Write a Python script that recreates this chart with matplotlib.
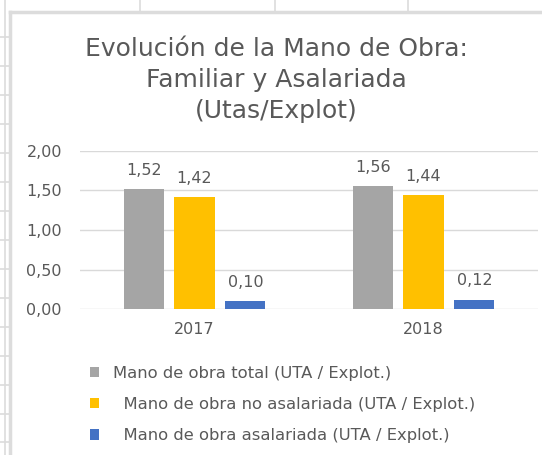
import matplotlib
matplotlib.use('Agg')
from matplotlib import pyplot as plt
from matplotlib.lines import Line2D

W, H = 542, 455  # Figure size in pixels

years = ['2017', '2018']
total = [1.52, 1.56]
no_asalariada = [1.42, 1.44]
asalariada = [0.10, 0.12]
series_labels = ['Mano de obra total (UTA / Explot.)',
                 '  Mano de obra no asalariada (UTA / Explot.)',
                 '  Mano de obra asalariada (UTA / Explot.)']
y_ticks = [0.0, 0.5, 1.0, 1.5, 2.0]

COLORS = ['#a5a5a5', '#ffc000', '#4472c4']  # gray, gold, blue (Excel palette)
TEXT = '#595959'
GRID = '#d9d9d9'
SHEET = '#dcdcdc'
FS = 11.5  # Base font size for labels


def fx(px):
    return px / W


def fy(py):
    return 1 - py / H


def to_label(v):
    return '{:.2f}'.format(v).replace('.', ',')


plt.rcParams['font.family'] = ['DejaVu Sans']
fig = plt.figure(figsize=(W / 100, H / 100), dpi=100)

# spreadsheet cell lines behind the chart
for x in [140, 275, 408]:
    fig.add_artist(Line2D([fx(x), fx(x)], [fy(0), fy(11)], color=SHEET, lw=1.2))
fig.add_artist(Line2D([fx(5), fx(5)], [fy(0), fy(455)], color=SHEET, lw=1.2))
for y in [37, 66, 95, 124, 153, 182, 211, 240, 269, 298, 327, 356, 385, 414, 442]:
    fig.add_artist(Line2D([fx(0), fx(9)], [fy(y), fy(y)], color=SHEET, lw=1.2))
# chart border
fig.add_artist(Line2D([fx(10), fx(542)], [fy(12), fy(12)], color=SHEET, lw=2.5))
fig.add_artist(Line2D([fx(10), fx(10)], [fy(12), fy(455)], color=SHEET, lw=2.5))

ax = fig.add_axes([fx(80), fy(309), fx(538) - fx(80), fy(151) - fy(309)])
ax.set_ylim(0, 2)
ax.set_xlim(-0.5, 1.5)

x_pos = list(range(len(years)))
width = 0.175
pitch = 0.222
handles = []
for i, (vals, color) in enumerate(zip([total, no_asalariada, asalariada], COLORS)):
    xs = [x + (i - 1) * pitch for x in x_pos]
    bars = ax.bar(xs, vals, width=width, color=color, zorder=3)
    handles.append(bars)
    for xx, v in zip(xs, vals):
        ax.annotate(to_label(v), (xx, v), xytext=(0, 8), textcoords='offset points',
                    ha='center', va='bottom', fontsize=FS, color=TEXT)

ax.set_yticks(y_ticks)
ax.set_yticklabels([to_label(t) for t in y_ticks])
ax.set_xticks(x_pos)
ax.set_xticklabels(years)
ax.tick_params(axis='both', length=0, colors=TEXT, labelsize=FS)
ax.tick_params(axis='y', pad=13)
ax.tick_params(axis='x', pad=9)
ax.grid(axis='y', color=GRID, linewidth=1, zorder=0)
for spine in ax.spines.values():
    spine.set_visible(False)

fig.text(fx(276), fy(80), 'Evolución de la Mano de Obra:\nFamiliar y Asalariada\n(Utas/Explot)',
         ha='center', va='center', fontsize=18, color=TEXT, linespacing=1.38)

fig.legend(handles, series_labels, loc='upper left', bbox_to_anchor=(fx(83), fy(359)),
           frameon=False, fontsize=11.8, labelcolor=TEXT, handlelength=0.6, handleheight=0.6,
           handletextpad=0.85, labelspacing=1.0, borderaxespad=0)

plt.savefig('out.png', dpi=100)
